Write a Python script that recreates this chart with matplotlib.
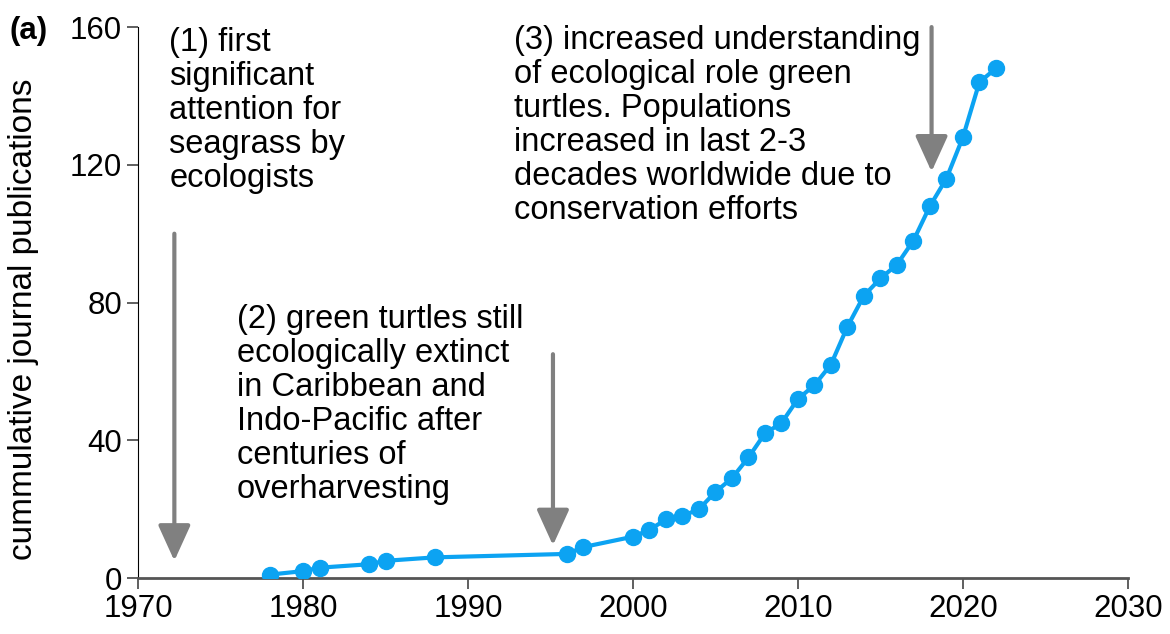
import matplotlib.pyplot as plt

plt.rcParams['font.family'] = ['Liberation Sans', 'DejaVu Sans']

years = [1978, 1980, 1981, 1984, 1985, 1988, 1996, 1997, 2000, 2001, 2002, 2003,
         2004, 2005, 2006, 2007, 2008, 2009, 2010, 2011, 2012, 2013, 2014, 2015,
         2016, 2017, 2018, 2019, 2020, 2021, 2022]
pubs = [1, 2, 3, 4, 5, 6, 7, 9, 12, 14, 17, 18, 20, 25, 29, 35, 42, 45, 52, 56,
        62, 73, 82, 87, 91, 98, 108, 116, 128, 144, 148]

notes = [
    "(1) first\nsignificant\nattention for\nseagrass by\necologists",
    "(2) green turtles still\necologically extinct\nin Caribbean and\nIndo-Pacific after\ncenturies of\noverharvesting",
    "(3) increased understanding\nof ecological role green\nturtles. Populations\nincreased in last 2-3\ndecades worldwide due to\nconservation efforts",
]
note_pos = [(1971.9, 160), (1976.0, 79.5), (1992.8, 160.5)]
# arrows: x, start y, end y
arrows = [(1972.2, 100, 5), (1995.15, 65, 9.5), (2018.1, 160, 118)]

fig = plt.figure(figsize=(11.7, 6.34), dpi=100)
ax = fig.add_axes([0.118, 0.0883, 0.846, 0.869])

ax.plot(years, pubs, color='#0ca3f2', lw=3, marker='o', ms=11.5, zorder=3)

for x, y0, y1 in arrows:
    ax.annotate('', xy=(x, y1), xytext=(x, y0),
                arrowprops=dict(arrowstyle='-|>,head_width=0.5,head_length=1.1',
                                mutation_scale=20, lw=3, color='#808080',
                                shrinkA=0, shrinkB=0))

for txt, (x, y) in zip(notes, note_pos):
    ax.text(x, y, txt, fontsize=23.5, va='top', ha='left', linespacing=1.12)

ax.set_xlim(1970, 2030)
ax.set_ylim(0, 160)
ax.set_xticks(range(1970, 2031, 10))
ax.set_yticks(range(0, 161, 40))
ax.tick_params(labelsize=22.5, length=8, width=1.2, direction='out', color='#444444')
ax.spines['top'].set_visible(False)
ax.spines['right'].set_visible(False)
ax.spines['bottom'].set_color('#555555')
ax.spines['bottom'].set_linewidth(2)
ax.set_ylabel('cummulative journal publications', fontsize=24, labelpad=8)
ax.yaxis.set_label_coords(-0.1, 0.47)
fig.text(0.008, 0.975, '(a)', fontsize=22.5, fontweight='bold', va='top')

fig.savefig('out.png')
